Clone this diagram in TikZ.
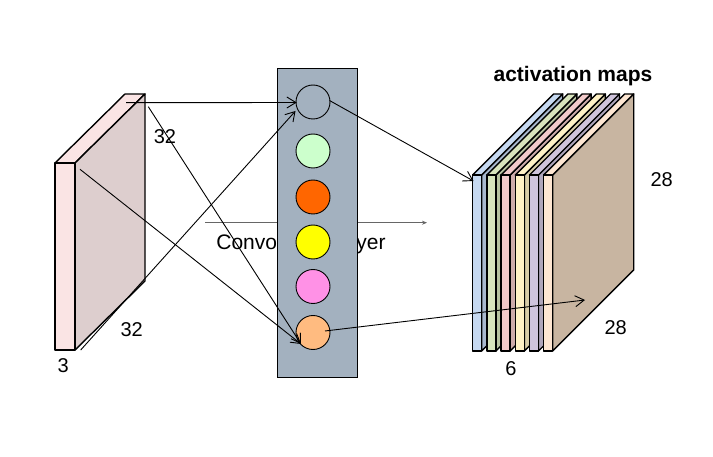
\documentclass[tikz,border=0pt]{standalone}
\usepackage{fontspec}
\setmainfont{Liberation Sans}
\usetikzlibrary{arrows.meta}
\definecolor{volF}{HTML}{FAE4E4}
\definecolor{volS}{HTML}{DDCECE}
\definecolor{layerbg}{HTML}{A3B1BF}
\definecolor{cA}{HTML}{CCFFCC}
\definecolor{cB}{HTML}{FF6600}
\definecolor{cC}{HTML}{FFFF00}
\definecolor{cD}{HTML}{FF91E6}
\definecolor{cE}{HTML}{FFBB80}
\definecolor{sAf}{HTML}{C6D9F1}\definecolor{sAs}{HTML}{A8B8CE}
\definecolor{sBf}{HTML}{D8E4BD}\definecolor{sBs}{HTML}{B7C2A0}
\definecolor{sCf}{HTML}{F2CACA}\definecolor{sCs}{HTML}{CDABAB}
\definecolor{sDf}{HTML}{FFF2C6}\definecolor{sDs}{HTML}{D8CDA8}
\definecolor{sEf}{HTML}{CFC4DC}\definecolor{sEs}{HTML}{AFA6BB}
\definecolor{sFf}{HTML}{FDE6D2}\definecolor{sFs}{HTML}{C8B5A1}
\tikzset{
  face/.style={draw=black, line width=1.4pt, line join=round},
  conn/.style={draw=black, line width=0.9pt, -{Straight Barb[length=9pt,width=11pt,line width=0.9pt]}},
  neuron/.style={circle, draw=black, line width=0.9pt, minimum size=34pt, inner sep=0pt},
  lbl/.style={font=\fontsize{20}{24}\selectfont, anchor=base, inner sep=0pt},
}
\begin{document}
\begin{tikzpicture}[x=1pt,y=-1pt]
\useasboundingbox (0,0) rectangle (713,457);
% background guide arrow and label
\draw[gray!80!black, line width=0.8pt, -{Stealth[length=5pt,width=4pt]}] (205,222.7) coordinate (ga) -- (427,222.7) coordinate (gb);
\node[lbl, font=\fontsize{21}{25}\selectfont] (convlbl) at (301,249.5) {Convolution Layer};
% input volume
\fill[volF] (55,163) rectangle (75,350);
\draw[face, fill=volF] (55,163) -- (125,94) -- (145,94) -- (75,163) -- cycle;
\draw[face, fill=volS] (75,163) -- (145,94) -- (145,281) -- (75,350) -- cycle;
\draw[face] (55,163) rectangle (75,350);
\node[lbl] (n3) at (63.3,373) {3};
\node[lbl] (n32a) at (165,143.5) {32};
\node[lbl] (n32b) at (131.7,336.7) {32};
% layer
\node[draw=black, line width=0.9pt, fill=layerbg, minimum width=80pt, minimum height=309pt, inner sep=0pt] (layer) at (317,222.5) {};
\node[neuron] (c0) at (313,102) {};
\node[neuron, fill=cA] (c1) at (313,151) {};
\node[neuron, fill=cB] (c2) at (313,197) {};
\node[neuron, fill=cC] (c3) at (313,242) {};
\node[neuron, fill=cD] (c4) at (313,286.5) {};
\node[neuron, fill=cE] (c5) at (313,332.5) {};
% activation maps
\foreach \i/\f/\s in {0/sAf/sAs,1/sBf/sBs,2/sCf/sCs,3/sDf/sDs,4/sEf/sEs,5/sFf/sFs}{
  \pgfmathsetmacro{\xo}{472.7+14.2*\i}
  \draw[face, fill=\s] (\xo+9,175) -- (\xo+90,94) -- (\xo+90,270) -- (\xo+9,351) -- cycle;
  \draw[face, fill=\f] (\xo,175) -- (\xo+81,94) -- (\xo+90,94) -- (\xo+9,175) -- cycle;
  \draw[face, fill=\f] (\xo,175) rectangle (\xo+9,351);
}
\node[lbl, font=\fontsize{21}{25}\selectfont\bfseries] (actlbl) at (573,81.5) {activation maps};
\node[lbl] (n28a) at (661.7,186.7) {28};
\node[lbl] (n28b) at (615.7,335) {28};
\node[lbl] (n6) at (511,375) {6};
% connector end points
\coordinate (p1) at (126,102.7);
\coordinate (p2) at (148.3,106.7);
\coordinate (p3) at (80,169.3);
\coordinate (p4) at (80.7,350);
\coordinate (q1) at (296.7,102.5);
\coordinate (q4) at (295.5,111);
\coordinate (q5) at (301,344);
\coordinate (r1) at (329.5,100.5);
\coordinate (r2) at (473.5,181);
\coordinate (s1) at (325,331);
\coordinate (s2) at (585,300);
\draw[conn] (p1) -- (q1);
\draw[conn] (p2) -- (q5);
\draw[conn] (p3) -- (q5);
\draw[conn] (p4) -- (q4);
\draw[conn] (r1) -- (r2);
\draw[conn] (s1) -- (s2);
\end{tikzpicture}
\end{document}
